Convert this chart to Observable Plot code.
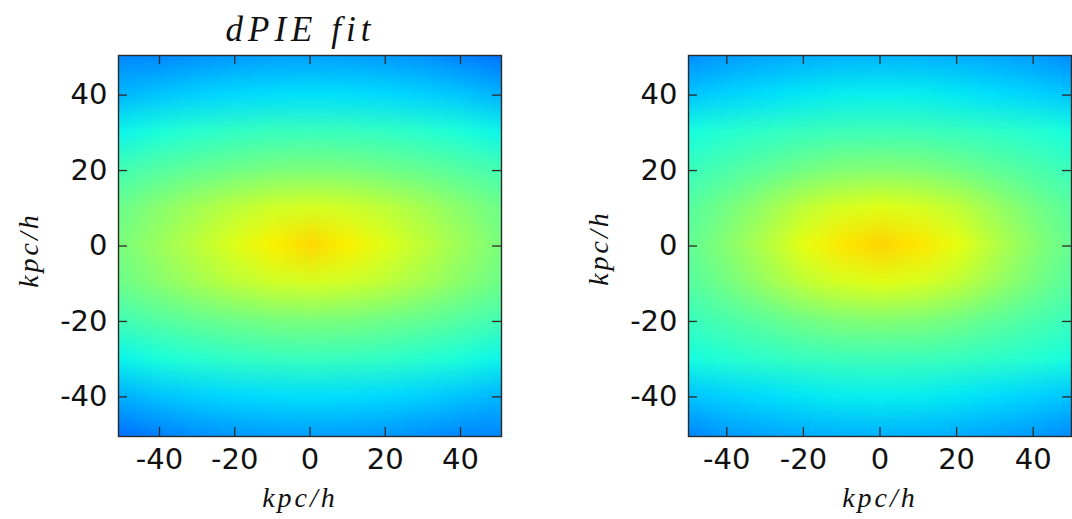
<!DOCTYPE html>
<html><head><meta charset="utf-8">
<script src="https://cdn.jsdelivr.net/npm/d3@7"></script>
<script src="https://cdn.jsdelivr.net/npm/@observablehq/plot@0.6"></script>
<style>
html,body{margin:0;padding:0;background:#fff;}
#fig{position:relative;width:1072px;height:519px;overflow:hidden;background:#fff;}
#fig > svg{position:absolute;top:0;}
#fig g[font-size="28"] text{letter-spacing:3px;}
#fig g[font-size="35"] text{letter-spacing:5px;}
</style></head><body><div id="fig"></div>
<script>
// grid sample positions (kpc/h)
const gridX = [-50,-40,-30,-20,-10,0,10,20,30,40,50];
const gridY = [50,40,30,20,10,0,-10,-20,-30,-40,-50];

// left panel: dPIE fit (colour level, jet 0..1), rows from y=50 down to y=-50
const fitValues = [
  [0.26,0.26,0.27,0.278,0.283,0.285,0.283,0.278,0.27,0.255,0.24],
  [0.305,0.318,0.33,0.338,0.343,0.345,0.343,0.338,0.33,0.318,0.30],
  [0.366,0.384,0.398,0.41,0.418,0.42,0.418,0.41,0.398,0.384,0.366],
  [0.432,0.452,0.47,0.485,0.496,0.50,0.496,0.485,0.47,0.452,0.432],
  [0.483,0.516,0.549,0.578,0.600,0.608,0.600,0.578,0.549,0.516,0.483],
  [0.50,0.54,0.58,0.62,0.655,0.68,0.655,0.62,0.58,0.54,0.50],
  [0.483,0.516,0.549,0.578,0.600,0.608,0.600,0.578,0.549,0.516,0.483],
  [0.432,0.452,0.47,0.485,0.496,0.50,0.496,0.485,0.47,0.452,0.432],
  [0.366,0.384,0.398,0.41,0.418,0.42,0.418,0.41,0.398,0.384,0.366],
  [0.30,0.318,0.33,0.338,0.343,0.345,0.343,0.338,0.33,0.318,0.305],
  [0.24,0.255,0.27,0.278,0.283,0.285,0.283,0.278,0.27,0.26,0.26]
];

// right panel
const dataValues = [
  [0.265,0.28,0.29,0.298,0.303,0.305,0.303,0.298,0.29,0.28,0.26],
  [0.318,0.332,0.343,0.352,0.358,0.36,0.358,0.352,0.343,0.332,0.318],
  [0.378,0.394,0.406,0.417,0.424,0.426,0.424,0.417,0.406,0.394,0.378],
  [0.419,0.442,0.464,0.488,0.505,0.51,0.505,0.488,0.464,0.442,0.419],
  [0.455,0.492,0.536,0.582,0.610,0.622,0.610,0.582,0.536,0.492,0.455],
  [0.47,0.515,0.57,0.63,0.665,0.685,0.665,0.63,0.57,0.515,0.47],
  [0.455,0.492,0.536,0.582,0.610,0.622,0.610,0.582,0.536,0.492,0.455],
  [0.419,0.442,0.464,0.488,0.505,0.51,0.505,0.488,0.464,0.442,0.419],
  [0.378,0.394,0.406,0.417,0.424,0.426,0.424,0.417,0.406,0.394,0.378],
  [0.318,0.332,0.343,0.352,0.358,0.36,0.358,0.352,0.343,0.332,0.318],
  [0.26,0.28,0.29,0.298,0.303,0.305,0.303,0.298,0.29,0.28,0.265]
];

const tickValues = [-40,-20,0,20,40];
const axisLabel = "kpc/h";
const panelTitles = ["dPIE fit", ""];

// matplotlib "jet" colormap stops
const jetStops  = [0, 0.11, 0.125, 0.34, 0.35, 0.375, 0.64, 0.65, 0.66, 0.89, 0.91, 1];
const jetColors = ["#000080","#0000ff","#0000ff","#00dbff","#00e6f7","#15ffe2","#efff08","#f7f500","#ffec00","#ff1300","#e80000","#800000"];

function cells(grid) {
  const out = [];
  grid.forEach((row, j) => row.forEach((v, i) => out.push({x: gridX[i], y: gridY[j], v})));
  return out;
}

const W = 536, H = 519, MT = 55, MB = 83, TICK = 9;
const frameW = 383, frameH = H - MT - MB;
const axisColor = "#2a2a2a";

function panel(grid, title, o) {
  const tickStyle = {stroke: axisColor, strokeWidth: 1.3};
  const marks = [
    Plot.raster(cells(grid), {x: "x", y: "y", fill: "v", x1: -55, x2: 55, y1: -55, y2: 55,
      width: gridX.length, height: gridY.length, clip: true, imageRendering: "auto"}),
    // inward ticks on all four sides
    Plot.tickX(tickValues, {x: d => d, insetTop: frameH - TICK, ...tickStyle}),
    Plot.tickX(tickValues, {x: d => d, insetBottom: frameH - TICK, ...tickStyle}),
    Plot.tickY(tickValues, {y: d => d, insetRight: frameW - TICK, ...tickStyle}),
    Plot.tickY(tickValues, {y: d => d, insetLeft: frameW - TICK, ...tickStyle}),
    Plot.frame({stroke: axisColor, strokeWidth: 1.4}),
    Plot.axisX(tickValues, {anchor: "bottom", tickSize: 0, tickPadding: 12, tickFormat: d => String(d), label: null, fontSize: 29}),
    Plot.axisY(tickValues, {anchor: "left", tickSize: 0, tickPadding: 11, tickFormat: d => String(d), label: null, fontSize: 29}),
    Plot.text([axisLabel], {frameAnchor: "bottom", dx: o.xlabDx, dy: 62, textAnchor: "middle", lineAnchor: "middle",
      fontFamily: "Liberation Serif", fontStyle: "italic", fontSize: 28, fill: "#111"}),
    Plot.text([axisLabel], {frameAnchor: "left", rotate: -90, dx: o.ylabDx, dy: o.ylabDy, textAnchor: "middle", lineAnchor: "middle",
      fontFamily: "Liberation Serif", fontStyle: "italic", fontSize: 28, fill: "#111"})
  ];
  if (title) marks.push(Plot.text([title], {frameAnchor: "top", dx: -9.5, dy: -26, textAnchor: "middle", lineAnchor: "middle",
      fontFamily: "Liberation Serif", fontStyle: "italic", fontSize: 35, fill: "#111"}));
  const svg = Plot.plot({
    width: W, height: H,
    marginLeft: o.marginLeft, marginRight: o.marginRight, marginTop: MT, marginBottom: MB,
    x: {domain: o.xDomain},
    y: {domain: [-50.5, 50.5]},
    color: {type: "linear", domain: jetStops, range: jetColors, interpolate: "rgb", clamp: true},
    style: {fontFamily: "DejaVu Sans", fontSize: "29px", color: "#111", background: "transparent", overflow: "visible"},
    marks
  });
  svg.style.left = o.left + "px";
  return svg;
}

const fig = document.getElementById("fig");
fig.appendChild(panel(fitValues, panelTitles[0], {left: 0, marginLeft: 118, marginRight: 35, xDomain: [-50.9, 50.9], xlabDx: -10, ylabDx: -89, ylabDy: 4}));
fig.appendChild(panel(dataValues, panelTitles[1], {left: 536, marginLeft: 152, marginRight: 1, xDomain: [-50, 50], xlabDx: 0, ylabDx: -89, ylabDy: 2}));
</script></body></html>
